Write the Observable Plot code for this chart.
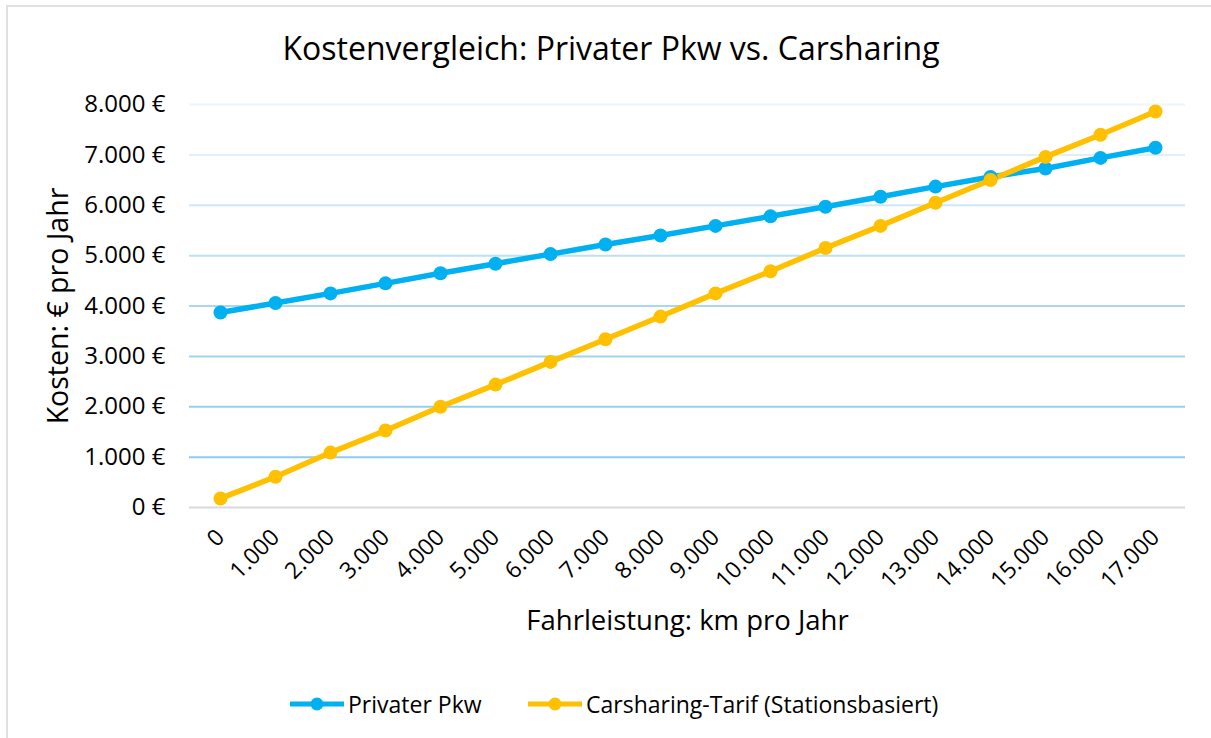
<!DOCTYPE html>
<html>
<head>
<meta charset="utf-8">
<script src="https://cdn.jsdelivr.net/npm/d3@7"></script>
<script src="https://cdn.jsdelivr.net/npm/@observablehq/plot@0.6"></script>
<style>
  html, body { margin: 0; padding: 0; background: #fff; overflow: hidden; }
  body { width: 1211px; height: 738px; position: relative; font-family: "Open Sans", sans-serif; color: #000; }
  #frame { position: absolute; left: 6px; top: 5px; width: 1230px; height: 760px; border: 2px solid #e0e0e0; box-sizing: border-box; }
  #title { position: absolute; left: 0; width: 1222px; top: 28px; text-align: center; font-size: 32px; line-height: 40px; }
  #chart { position: absolute; left: 0; top: 80px; }
  #legend { position: absolute; top: 689px; left: 0; width: 1211px; height: 30px; }
  .item { position: absolute; top: 0; display: flex; align-items: center; font-size: 23px; line-height: 30px; }
  .item svg { margin-right: 3px; }
</style>
</head>
<body>
<div id="frame"></div>
<div id="title"></div>
<div id="chart"></div>
<div id="legend"></div>
<script>
// ---- data ----
const titleText = "Kostenvergleich: Privater Pkw vs. Carsharing";
const xLabel = "Fahrleistung: km pro Jahr";
const yLabel = "Kosten: € pro Jahr";
const km = [0, 1000, 2000, 3000, 4000, 5000, 6000, 7000, 8000, 9000, 10000, 11000, 12000, 13000, 14000, 15000, 16000, 17000];
const privaterPkw = [3870, 4060, 4250, 4450, 4650, 4840, 5030, 5220, 5400, 5590, 5780, 5970, 6170, 6370, 6560, 6730, 6940, 7140];
const carsharing = [180, 610, 1090, 1530, 2000, 2440, 2890, 3340, 3790, 4250, 4690, 5150, 5590, 6050, 6500, 6960, 7400, 7860];
const seriesNames = ["Privater Pkw", "Carsharing-Tarif (Stationsbasiert)"];
const seriesColors = ["#00B0F0", "#FFC000"];
const yTicks = [0, 1000, 2000, 3000, 4000, 5000, 6000, 7000, 8000];
const gridColors = ["#d9d9d9", "#8ecbec", "#96cfee", "#9fd3ee", "#a9d7ef", "#bde0f2", "#cfe7f5", "#e0eff8", "#eef6fb"];
const legendX = [289, 527];

// ---- helpers ----
const fmt = v => d3.format(",")(v).replace(/,/g, ".");
const rows = [];
seriesNames.forEach((name, s) => {
  const vals = s === 0 ? privaterPkw : carsharing;
  km.forEach((k, i) => rows.push({series: name, km: k, value: vals[i]}));
});
const grid = yTicks.map((t, i) => ({t, c: gridColors[i]}));

document.getElementById("title").textContent = titleText;

const chart = Plot.plot({
  width: 1211,
  height: 580,
  marginTop: 24,
  marginBottom: 153,
  marginLeft: 189,
  marginRight: 26,
  style: {fontFamily: "Open Sans, sans-serif", color: "#000", background: "transparent"},
  x: {type: "point", domain: km, padding: 0.5, label: null},
  y: {domain: [0, 8000], label: null},
  color: {domain: seriesNames, range: seriesColors},
  marks: [
    Plot.ruleY(grid, {y: "t", stroke: d => d.c, strokeWidth: 2}),
    Plot.axisY({ticks: yTicks, tickFormat: d => fmt(d) + " €", tickSize: 0, tickPadding: 24, fontSize: 24, label: null}),
    Plot.axisX({tickFormat: fmt, tickSize: 0, tickRotate: -45, tickPadding: 26, fontSize: 23, label: null}),
    Plot.line(rows, {x: "km", y: "value", z: "series", stroke: "series", strokeWidth: 5.5}),
    Plot.dot(rows, {x: "km", y: "value", fill: "series", r: 7}),
    Plot.text([yLabel], {frameAnchor: "left", textAnchor: "middle", text: d => d, rotate: -90, dx: -131, fontSize: 28.5}),
    Plot.text([xLabel], {frameAnchor: "bottom", text: d => d, dy: 122, fontSize: 27.5})
  ]
});
document.getElementById("chart").appendChild(chart);

const legend = document.getElementById("legend");
seriesNames.forEach((name, i) => {
  const item = document.createElement("div");
  item.className = "item";
  item.style.left = legendX[i] + "px";
  item.innerHTML = `<svg width="56" height="14"><line x1="1" x2="55" y1="7" y2="7" stroke="${seriesColors[i]}" stroke-width="5"/><circle cx="28" cy="7" r="6.5" fill="${seriesColors[i]}"/></svg><span></span>`;
  item.querySelector("span").textContent = name;
  legend.appendChild(item);
});
</script>
</body>
</html>
